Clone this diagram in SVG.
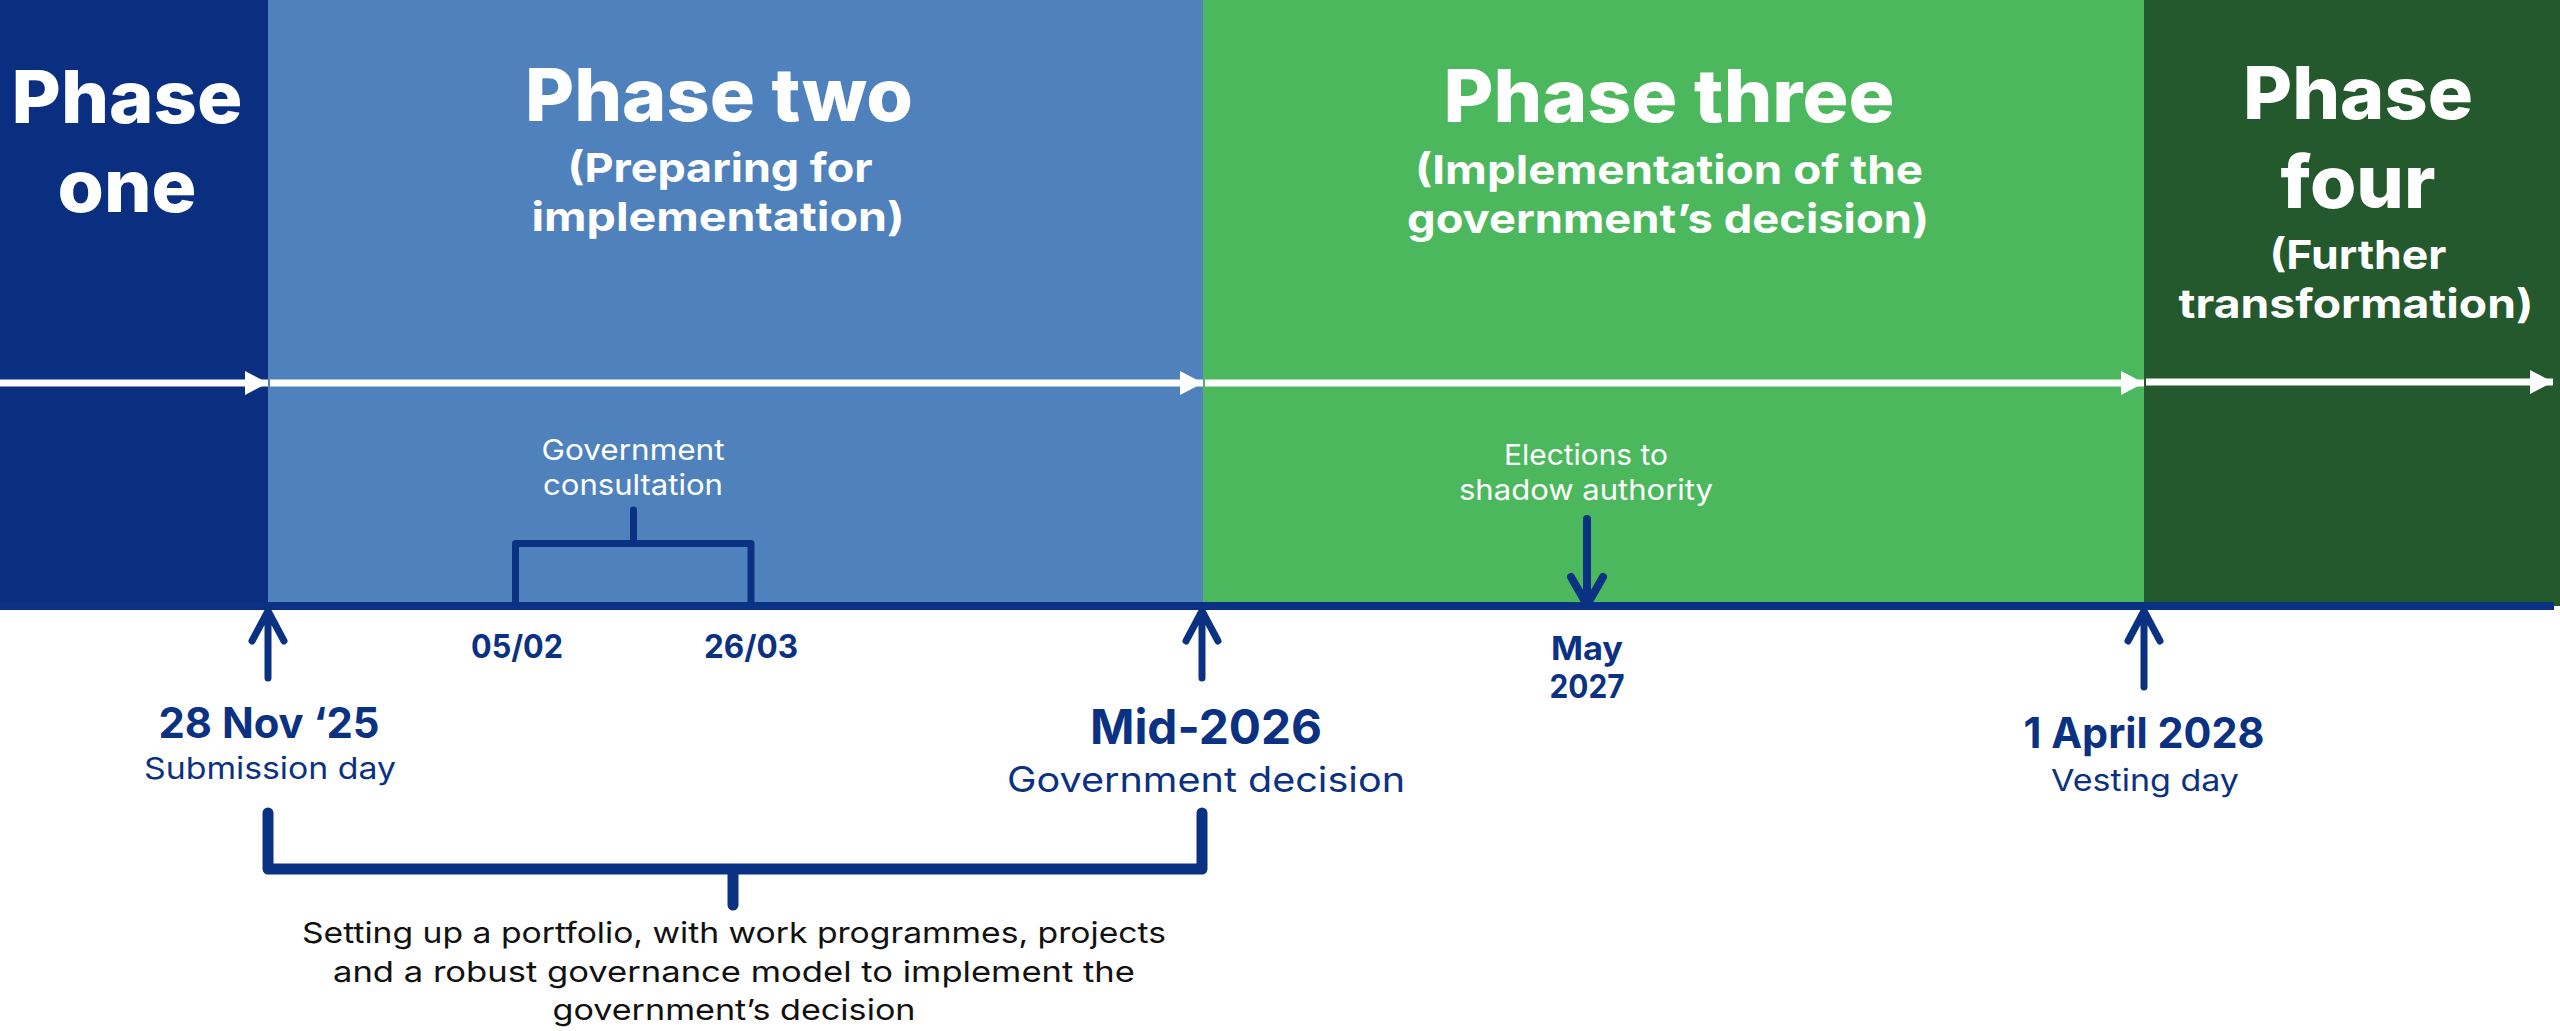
<svg xmlns="http://www.w3.org/2000/svg" width="2560" height="1031" viewBox="0 0 2560 1031">
<style>
.t{font-family:Inter,"Open Sans","Liberation Sans",sans-serif;text-anchor:middle}
.h{font-size:73px;font-weight:800;fill:#fff}
.s{font-size:40px;font-weight:700;fill:#fff}
.n{font-size:29px;font-weight:400;fill:#fff}
.db{font-weight:700;fill:#0b3282}
.dn{font-weight:400;fill:#0b3282}
.p{font-size:29px;font-weight:400;fill:#111}
.wl{stroke:#fff;stroke-width:7;fill:none}
.nv{stroke:#0b3282;fill:none;stroke-linecap:round;stroke-linejoin:round}
</style>
<defs>
<marker id="wh" markerUnits="userSpaceOnUse" markerWidth="24" markerHeight="24" refX="23" refY="12" orient="auto">
<path d="M0,0 L23,12 L0,24 z" fill="#fff"/>
</marker>
</defs>
<rect width="2560" height="1031" fill="#fff"/>
<g id="phase-one">
<rect x="0" y="0" width="268" height="603" fill="#0a2f80"/>
<text class="t h" x="127" y="123" textLength="231" lengthAdjust="spacingAndGlyphs">Phase</text>
<text class="t h" x="127" y="212" textLength="139" lengthAdjust="spacingAndGlyphs">one</text>
</g>
<g id="phase-two">
<rect x="268" y="0" width="935" height="603" fill="#4f82bd"/>
<text class="t h" x="719" y="121" textLength="388" lengthAdjust="spacingAndGlyphs">Phase two</text>
<text class="t s" x="720" y="182" textLength="305" lengthAdjust="spacingAndGlyphs">(Preparing for</text>
<text class="t s" x="718" y="231" textLength="373" lengthAdjust="spacingAndGlyphs">implementation)</text>
</g>
<g id="phase-three">
<rect x="1203" y="0" width="941" height="603" fill="#4cb85e"/>
<text class="t h" x="1669" y="122" textLength="451" lengthAdjust="spacingAndGlyphs">Phase three</text>
<text class="t s" x="1669" y="184" textLength="508" lengthAdjust="spacingAndGlyphs">(Implementation of the</text>
<text class="t s" x="1668" y="233" textLength="522" lengthAdjust="spacingAndGlyphs">government’s decision)</text>
</g>
<g id="phase-four">
<rect x="2144" y="0" width="416" height="606" fill="#24592e"/>
<text class="t h" x="2358" y="119" textLength="230" lengthAdjust="spacingAndGlyphs">Phase</text>
<text class="t h" x="2358" y="208" textLength="155" lengthAdjust="spacingAndGlyphs">four</text>
<text class="t s" x="2358" y="269" textLength="177" lengthAdjust="spacingAndGlyphs">(Further</text>
<text class="t s" x="2356" y="318" textLength="355" lengthAdjust="spacingAndGlyphs">transformation)</text>
</g>
<g id="consultation">
<text class="t n" x="633" y="460" textLength="183" lengthAdjust="spacingAndGlyphs">Government</text>
<text class="t n" x="633" y="495" textLength="180" lengthAdjust="spacingAndGlyphs">consultation</text>
<text class="t db" x="517" y="658" font-size="32" textLength="92" lengthAdjust="spacingAndGlyphs">05/02</text>
<text class="t db" x="751" y="658" font-size="32" textLength="94" lengthAdjust="spacingAndGlyphs">26/03</text>
</g>
<g id="elections">
<text class="t n" x="1586" y="465" textLength="164" lengthAdjust="spacingAndGlyphs">Elections to</text>
<text class="t n" x="1586" y="500" textLength="254" lengthAdjust="spacingAndGlyphs">shadow authority</text>
<text class="t db" x="1587" y="660" font-size="32" textLength="72" lengthAdjust="spacingAndGlyphs">May</text>
<text class="t db" x="1587" y="698" font-size="32" textLength="75" lengthAdjust="spacingAndGlyphs">2027</text>
</g>
<g id="submission">
<text class="t db" x="269" y="738" font-size="42" textLength="221" lengthAdjust="spacingAndGlyphs">28 Nov ‘25</text>
<text class="t dn" x="270" y="779" font-size="30" textLength="252" lengthAdjust="spacingAndGlyphs">Submission day</text>
</g>
<g id="decision">
<text class="t db" x="1206" y="744" font-size="48" textLength="232" lengthAdjust="spacingAndGlyphs">Mid-2026</text>
<text class="t dn" x="1206" y="792" font-size="35" textLength="398" lengthAdjust="spacingAndGlyphs">Government decision</text>
</g>
<g id="vesting">
<text class="t db" x="2144" y="748" font-size="42" textLength="241" lengthAdjust="spacingAndGlyphs">1 April 2028</text>
<text class="t dn" x="2145" y="791" font-size="30" textLength="188" lengthAdjust="spacingAndGlyphs">Vesting day</text>
</g>
<g id="portfolio">
<text class="t p" x="734" y="943" textLength="864" lengthAdjust="spacingAndGlyphs">Setting up a portfolio, with work programmes, projects</text>
<text class="t p" x="734" y="982" textLength="802" lengthAdjust="spacingAndGlyphs">and a robust governance model to implement the</text>
<text class="t p" x="734" y="1020" textLength="363" lengthAdjust="spacingAndGlyphs">government’s decision</text>
</g>
<g id="connectors">
<line class="wl" x1="0" y1="383" x2="268" y2="383" marker-end="url(#wh)"/>
<line class="wl" x1="270" y1="383" x2="1203" y2="383" marker-end="url(#wh)"/>
<line class="wl" x1="1205" y1="383" x2="2144" y2="383" marker-end="url(#wh)"/>
<line class="wl" x1="2146" y1="382" x2="2553" y2="382" marker-end="url(#wh)"/>
<rect x="0" y="602" width="2554" height="8" fill="#0a3182"/>
<path class="nv" stroke-width="7" d="M515.5,602 V543.5 H751 V602 M633.5,510 V543.5"/>
<path class="nv" stroke-width="8" d="M1587,519 V602 M1571,577 L1587,605 L1603,577"/>
<path class="nv" stroke-width="7" d="M268,678 V614 M252,641 L268,611 L284,641"/>
<path class="nv" stroke-width="7" d="M1202,678 V614 M1186,641 L1202,611 L1218,641"/>
<path class="nv" stroke-width="7" d="M2144,687 V614 M2128,641 L2144,611 L2160,641"/>
<path class="nv" stroke-width="11" stroke-linecap="butt" stroke-linejoin="miter" d="M268,813 V869 H1202 V813 M733,869 V905"/>
</g>
</svg>
